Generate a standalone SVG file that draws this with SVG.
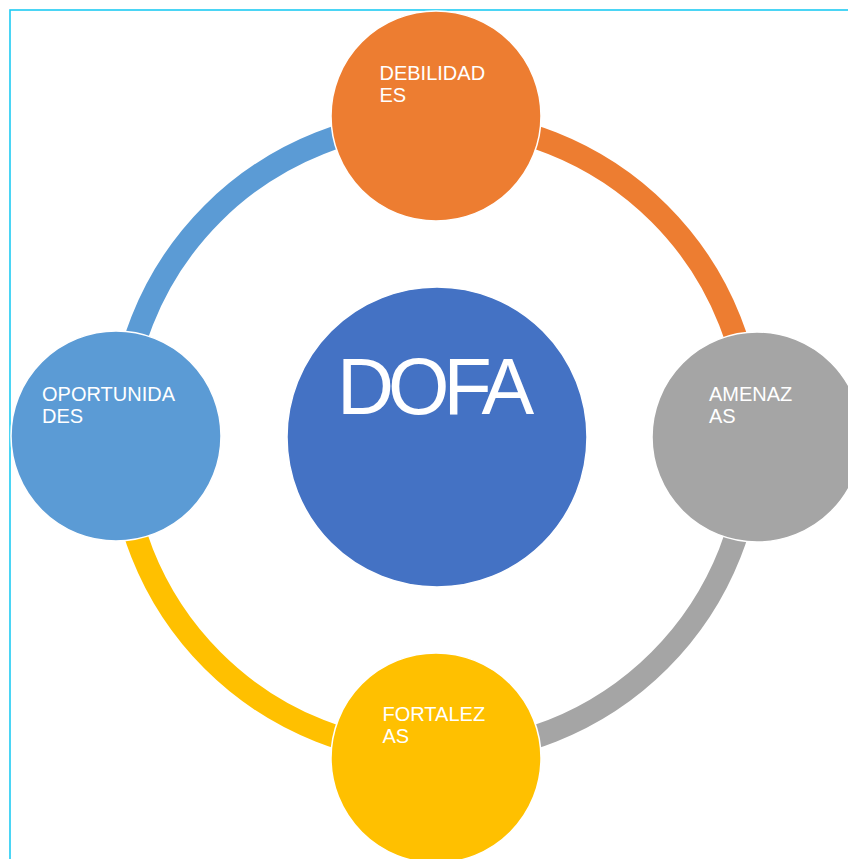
<svg xmlns="http://www.w3.org/2000/svg" width="848" height="859" viewBox="0 0 848 859">
  <style>
    .arc { fill: none; stroke-width: 23; stroke-linecap: butt; }
    .node { stroke: #ffffff; stroke-width: 1.5; }
    .lbl { font-family: "Liberation Sans", Arial, sans-serif; font-size: 20px; fill: #ffffff; }
    .big { font-family: "Liberation Sans", Arial, sans-serif; font-size: 79px; fill: #ffffff; letter-spacing: -6px; }
  </style>
  <rect x="0" y="0" width="848" height="859" fill="#ffffff"/>
  <rect id="frame" x="10" y="10" width="860" height="870" fill="none" stroke="#1ecbf3" stroke-width="1.6"/>
  <g id="connectors">
    <path class="arc" stroke="#5b9bd5" d="M 120 437 A 316 316 0 0 1 436 121"/>
    <path class="arc" stroke="#ed7d31" d="M 436 121 A 316 316 0 0 1 752 437"/>
    <path class="arc" stroke="#a5a5a5" d="M 752 437 A 316 316 0 0 1 436 753"/>
    <path class="arc" stroke="#ffc000" d="M 436 753 A 316 316 0 0 1 120 437"/>
  </g>
  <g id="center">
    <circle class="node" cx="437" cy="437" r="150" fill="#4472c4"/>
    <text class="big" x="337" y="414">DOFA</text>
  </g>
  <g id="debilidades">
    <circle class="node" cx="436" cy="116" r="105" fill="#ed7d31"/>
    <text class="lbl" x="379.5" y="80">DEBILIDAD</text>
    <text class="lbl" x="379.5" y="102">ES</text>
  </g>
  <g id="oportunidades">
    <circle class="node" cx="116" cy="436" r="105" fill="#5b9bd5"/>
    <text class="lbl" x="42" y="401">OPORTUNIDA</text>
    <text class="lbl" x="42" y="423">DES</text>
  </g>
  <g id="amenazas">
    <circle class="node" cx="757" cy="437" r="105" fill="#a5a5a5"/>
    <text class="lbl" x="709" y="401">AMENAZ</text>
    <text class="lbl" x="709" y="423">AS</text>
  </g>
  <g id="fortalezas">
    <circle class="node" cx="436" cy="758" r="105" fill="#ffc000"/>
    <text class="lbl" x="382.5" y="721">FORTALEZ</text>
    <text class="lbl" x="382.5" y="743">AS</text>
  </g>
</svg>
